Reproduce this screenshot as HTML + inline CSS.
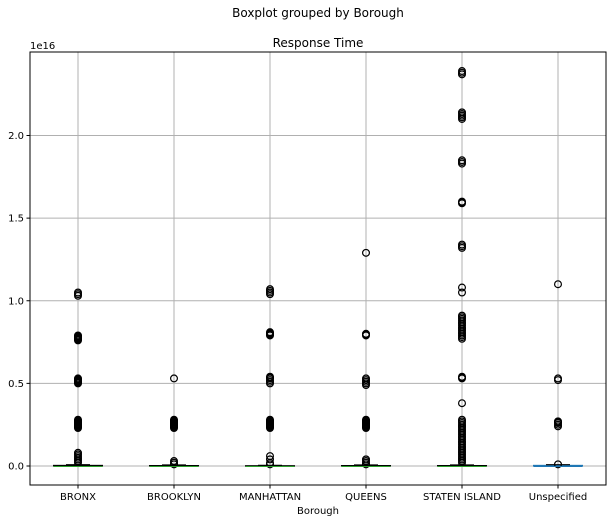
<!DOCTYPE html>
<html><head><meta charset="utf-8"><style>
body{margin:0;background:#fff;}
svg text{font-family:"DejaVu Sans","Liberation Sans",sans-serif;fill:#000;}
</style></head><body>
<svg id="chart" width="616" height="523" xmlns="http://www.w3.org/2000/svg">
<rect width="616" height="523" fill="#fff"/>
<text x="318" y="17" text-anchor="middle" font-size="12">Boxplot grouped by Borough</text>
<text x="318" y="47" text-anchor="middle" font-size="12">Response Time</text>
<text x="30" y="49" font-size="10">1e16</text>
<text x="318" y="514" text-anchor="middle" font-size="10">Borough</text>
<g id="grid"></g><g id="marks"></g><g id="axes"></g>
</svg>
<script>
const categories=["BRONX","BROOKLYN","MANHATTAN","QUEENS","STATEN ISLAND","Unspecified"];
const yTicks=[0,0.5,1.0,1.5,2.0];
const yTickLabels=["0.0","0.5","1.0","1.5","2.0"];
const medians=[0.0,0.0,0.0,0.0,0.0,0.0];
const boxQ1=[0.0,0.0,0.0,0.0,0.0,0.0];
const boxQ3=[0.004,0.003,0.002,0.003,0.003,0.004];
const whiskerHigh=[0.008,0.006,0.004,0.006,0.006,0.008];
const fliersBronx=[1.05,1.04,1.03,0.79,0.785,0.78,0.775,0.77,0.765,0.76,0.53,0.525,0.52,0.515,0.51,0.505,0.50,0.28,0.275,0.27,0.265,0.26,0.255,0.25,0.245,0.24,0.235,0.23,0.08,0.07,0.06,0.05,0.04,0.03,0.02];
const fliersBrooklyn=[0.53,0.28,0.275,0.27,0.265,0.26,0.255,0.25,0.245,0.24,0.235,0.23,0.03,0.02,0.01];
const fliersManhattan=[1.07,1.06,1.05,1.04,0.81,0.805,0.80,0.795,0.79,0.54,0.535,0.53,0.52,0.51,0.50,0.28,0.275,0.27,0.265,0.26,0.255,0.25,0.245,0.24,0.235,0.23,0.06,0.04,0.02,0.01];
const fliersQueens=[1.29,0.80,0.795,0.79,0.53,0.52,0.51,0.50,0.49,0.28,0.275,0.27,0.265,0.26,0.255,0.25,0.245,0.24,0.235,0.23,0.04,0.03,0.02,0.01];
const fliersStaten=[2.39,2.38,2.37,2.14,2.13,2.12,2.11,2.10,1.85,1.84,1.83,1.60,1.595,1.59,1.34,1.33,1.32,1.08,1.05,0.91,0.90,0.89,0.88,0.87,0.86,0.85,0.84,0.83,0.82,0.81,0.80,0.79,0.78,0.77,0.54,0.535,0.53,0.38,0.28,0.27,0.26,0.25,0.24,0.23,0.22,0.21,0.20,0.19,0.18,0.17,0.16,0.15,0.14,0.13,0.12,0.11,0.10,0.09,0.08,0.07,0.06,0.05,0.04,0.03,0.02];
const fliersUnspecified=[1.10,0.53,0.52,0.27,0.265,0.26,0.25,0.24,0.01];
const fliers=[fliersBronx,fliersBrooklyn,fliersManhattan,fliersQueens,fliersStaten,fliersUnspecified];

const L=30,R=606,T=52,B=485;
const NS="http://www.w3.org/2000/svg";
function yS(v){return 466-v*165.25;}
function xS(i){return L+(R-L)*(i+0.5)/categories.length;}
function mk(tag,attrs,parent){const e=document.createElementNS(NS,tag);for(const k in attrs)e.setAttribute(k,attrs[k]);parent.appendChild(e);return e;}
const grid=document.getElementById('grid'),marks=document.getElementById('marks'),axes=document.getElementById('axes');
yTicks.forEach((t,i)=>{
  const g=mk('line',{x1:L,x2:R,y1:yS(t),y2:yS(t),stroke:'#b0b0b0','stroke-width':1},grid);
  
  
  mk('line',{x1:L-3.5,x2:L,y1:yS(t),y2:yS(t),stroke:'#000'},axes);
  const tx=mk('text',{x:L-6,y:yS(t)+3.5,'text-anchor':'end','font-size':10},axes);
  tx.textContent=yTickLabels[i];
  
  
});
categories.forEach((c,i)=>{
  const x=xS(i);
  const g=mk('line',{x1:x,x2:x,y1:T,y2:B,stroke:'#b0b0b0','stroke-width':1},grid);
  
  
  mk('line',{x1:x,x2:x,y1:B,y2:B+3.5,stroke:'#000'},axes);
  const tx=mk('text',{x:x,y:B+15,'text-anchor':'middle','font-size':10},axes);
  tx.textContent=c;
  
  
  const col=i===5?'#1f77b4':'#000';
  const box=mk('rect',{x:x-24.5,y:yS(boxQ3[i]),width:49,height:Math.max(0.5,yS(boxQ1[i])-yS(boxQ3[i])),fill:'none',stroke:col,'stroke-width':1},marks);
  
  
  const cap=mk('line',{x1:x-12,x2:x+12,y1:yS(whiskerHigh[i]),y2:yS(whiskerHigh[i]),stroke:'#000','stroke-width':1.2},marks);
  
  
  fliers[i].forEach(v=>{
    const p=mk('ellipse',{cx:x,cy:yS(v),rx:3.4,ry:3.4,fill:'none',stroke:'#000','stroke-width':1.2},marks);
    
    
  });
  const md=mk('line',{x1:x-24.5,x2:x+24.5,y1:yS(medians[i])+0.5,y2:yS(medians[i])+0.5,stroke:i===5?'#1f77b4':'#2ca02c','stroke-width':1},marks);
  
  
});
const fr=mk('rect',{x:L,y:T,width:R-L,height:B-T,fill:'none',stroke:'#000','stroke-width':1},axes);


</script>
</body></html>
